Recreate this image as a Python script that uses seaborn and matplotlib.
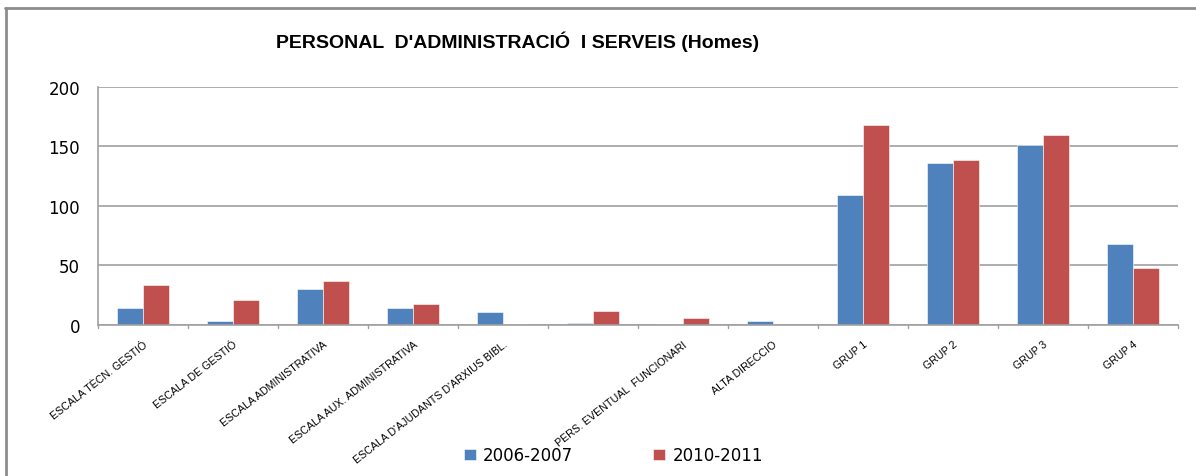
import matplotlib
matplotlib.use("Agg")
import matplotlib.pyplot as plt
import pandas as pd
import seaborn as sns
from matplotlib.lines import Line2D

# ── Data ────────────────────────────────────────────────────
categories = [
    "ESCALA TÈCN. GESTIÓ", "ESCALA DE GESTIÓ", "ESCALA ADMINISTRATIVA",
    "ESCALA AUX. ADMINISTRATIVA", "ESCALA D'AJUDANTS D'ARXIUS BIBL.", "",
    "PERS. EVENTUAL  FUNCIONARI", "ALTA DIRECCIO",
    "GRUP 1", "GRUP 2", "GRUP 3", "GRUP 4",
]
series = ["2006-2007", "2010-2011"]
values_0607 = [14, 3, 30, 14, 11, 2, 1, 3, 109, 136, 151, 68]
values_1011 = [34, 21, 37, 18, 1, 12, 6, 0, 168, 139, 160, 48]
y_ticks = [0, 50, 100, 150, 200]

keys = [f"c{i}" for i in range(len(categories))]
df = pd.DataFrame({
    "key": keys * 2,
    "value": values_0607 + values_1011,
    "serie": [series[0]] * len(keys) + [series[1]] * len(keys),
})

sns.set_style("white")
plt.rcParams["font.family"] = ["DejaVu Sans"]
plt.rcParams["text.color"] = "black"
plt.rcParams["xtick.color"] = "black"
plt.rcParams["ytick.color"] = "black"

fig = plt.figure(figsize=(11.96, 4.77), dpi=100)
ax = fig.add_axes([0.082, 0.3166, 0.903, 0.499])

sns.barplot(data=df, x="key", y="value", hue="serie", order=keys,
            palette=["#4F81BD", "#C0504D"], width=0.58, saturation=1,
            edgecolor="white", linewidth=0.4, ax=ax, legend=True)

ax.set_ylim(0, 200)
ax.set_xlim(-0.5, len(keys) - 0.5)
ax.set_yticks(y_ticks)
ax.set_yticklabels([str(t) for t in y_ticks], fontsize=12)
ax.yaxis.grid(True, color="#A0A0A0", linewidth=1.2)
ax.set_axisbelow(True)
ax.set_xlabel("")
ax.set_ylabel("")

# category labels, rotated like the spreadsheet
ax.set_xticks(range(len(keys)))
ax.set_xticklabels(categories, rotation=38, ha="right",
                   rotation_mode="anchor", fontsize=7.7,
                   family=["Liberation Sans", "DejaVu Sans"])
ax.tick_params(axis="x", length=0, pad=10)
ax.tick_params(axis="y", length=4, color="#A0A0A0", direction="out", pad=9)

# boundary tick marks between groups
for b in range(len(keys) + 1):
    ax.plot([b - 0.5, b - 0.5], [0, -2.5], color="#A0A0A0", lw=1,
            clip_on=False)

for side in ["top", "right"]:
    ax.spines[side].set_visible(False)
for side in ["left", "bottom"]:
    ax.spines[side].set_color("#A0A0A0")
    ax.spines[side].set_linewidth(1.2)

# legend under the plot
handles, labels = ax.get_legend_handles_labels()
ax.get_legend().remove()
fig.legend(handles, labels, loc="center", bbox_to_anchor=(0.513, 0.043),
           ncol=2, frameon=False, fontsize=12, handlelength=0.7,
           handleheight=0.7, columnspacing=4.8, handletextpad=0.45)

fig.text(0.433, 0.913, "PERSONAL  D'ADMINISTRACIÓ  I SERVEIS (Homes)",
         ha="center", va="center", fontsize=14, fontweight="bold",
         color="black", family=["Liberation Sans", "DejaVu Sans"])

# outer chart frame (only the top and left edges are visible)
frame = "#8C8C8C"
fig.add_artist(Line2D([5 / 1196, 1.0], [1 - 9 / 477, 1 - 9 / 477],
                      transform=fig.transFigure, color=frame, lw=2))
fig.add_artist(Line2D([6 / 1196, 6 / 1196], [0.0, 1 - 9 / 477],
                      transform=fig.transFigure, color=frame, lw=2))

fig.savefig("out.png", dpi=100)
